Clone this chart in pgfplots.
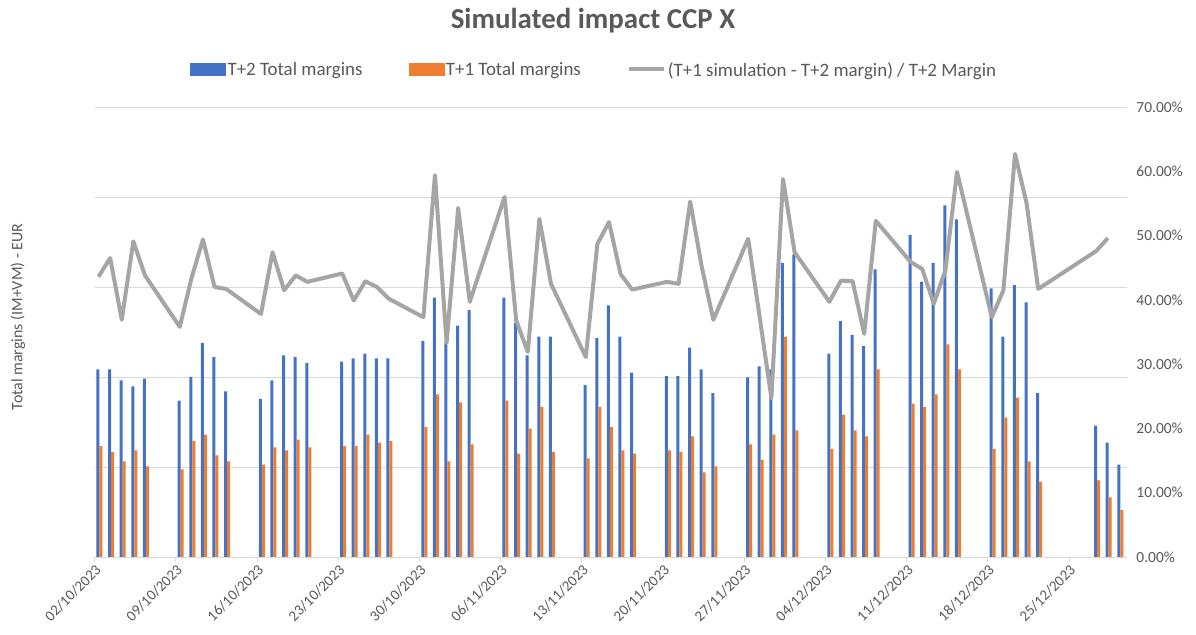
\documentclass[border=0pt]{standalone}
\usepackage{pgfplots}
\pgfplotsset{compat=1.18}
\usepackage{pgfplotstable}
\usepackage{fontspec}
\setmainfont{Carlito}

\definecolor{t2blue}{HTML}{4472C4}
\definecolor{t1orange}{HTML}{ED7D31}
\definecolor{linegray}{HTML}{A5A5A5}
\definecolor{gridgray}{HTML}{D9D9D9}
\definecolor{txtgray}{HTML}{595959}

% day = days since 02/10/2023; t2, t1 in gridline units (left axis values hidden); pct in %
\pgfplotstableread{
day date  t2    t1    pct
0   02/10 2.085 1.233 43.6
1   03/10 2.085 1.167 46.5
2   04/10 1.963 1.063 36.9
3   05/10 1.896 1.185 49.1
4   06/10 1.981 1.007 43.8
7   09/10 1.737 0.974 35.8
8   10/10 2.000 1.289 43.3
9   11/10 2.378 1.359 49.4
10  12/10 2.222 1.130 42.0
11  13/10 1.841 1.063 41.7
14  16/10 1.756 1.026 37.8
15  17/10 1.963 1.219 47.4
16  18/10 2.241 1.185 41.5
17  19/10 2.222 1.304 43.8
18  20/10 2.156 1.219 42.8
21  23/10 2.170 1.233 44.1
22  24/10 2.207 1.233 39.9
23  25/10 2.259 1.359 42.9
24  26/10 2.207 1.270 42.0
25  27/10 2.207 1.289 40.2
28  30/10 2.400 1.444 37.3
29  31/10 2.881 1.807 59.4
30  01/11 2.380 1.063 33.3
31  02/11 2.570 1.719 54.3
32  03/11 2.744 1.252 39.7
35  06/11 2.881 1.737 56.0
36  07/11 2.604 1.148 36.8
37  08/11 2.241 1.426 31.9
38  09/11 2.448 1.667 52.6
39  10/11 2.448 1.167 42.5
42  13/11 1.911 1.096 31.1
43  14/11 2.433 1.667 48.7
44  15/11 2.796 1.444 52.1
45  16/11 2.448 1.185 44.0
46  17/11 2.048 1.148 41.6
49  20/11 2.011 1.185 42.8
50  21/11 2.011 1.167 42.5
51  22/11 2.326 1.341 55.3
52  23/11 2.085 0.941 45.1
53  24/11 1.822 1.007 36.9
56  27/11 1.996 1.252 49.5
57  28/11 2.119 1.081 37.2
58  29/11 2.085 1.359 24.7
59  30/11 3.267 2.448 58.8
60  01/12 3.363 1.407 47.4
63  04/12 2.259 1.200 39.7
64  05/12 2.622 1.581 43.0
65  06/12 2.467 1.407 42.9
66  07/12 2.344 1.341 34.7
67  08/12 3.196 2.085 52.3
70  11/12 3.578 1.704 45.9
71  12/12 3.059 1.667 44.8
72  13/12 3.267 1.807 39.4
73  14/12 3.907 2.363 44.6
74  15/12 3.752 2.085 59.9
77  18/12 2.985 1.200 37.3
78  19/12 2.448 1.548 41.5
79  20/12 3.022 1.770 62.7
80  21/12 2.830 1.063 55.0
81  22/12 1.822 0.837 41.7
86  27/12 1.459 0.852 47.6
87  28/12 1.270 0.663 49.6
88  29/12 1.026 0.522 nan
}\margins

\begin{document}
\begin{tikzpicture}
\path[use as bounding box] (0,0) rectangle (1196bp,635bp);

% bars, left axis (values not shown)
\begin{axis}[
  at={(94.5bp,78bp)}, anchor=south west,
  scale only axis, width=1032.5bp, height=450bp,
  xmin=-0.35, xmax=88.65, ymin=0, ymax=5,
  axis x line*=bottom, axis y line*=left,
  x axis line style={draw=gridgray, line width=0.8bp, -},
  y axis line style={draw=none},
  xtick={-0.35,6.65,...,83.65},
  xticklabels={02/10/2023,09/10/2023,16/10/2023,23/10/2023,30/10/2023,06/11/2023,
    13/11/2023,20/11/2023,27/11/2023,04/12/2023,11/12/2023,18/12/2023,25/12/2023},
  xtick style={draw=gridgray, line width=0.8bp},
  tick align=outside, major tick length=5bp,
  ytick={0,1,...,5}, yticklabels={}, ytick style={draw=none},
  ymajorgrids, grid style={draw=gridgray, line width=0.8bp},
  xticklabel style={rotate=45, anchor=north east, inner sep=1bp,
    font=\fontsize{15}{16}\selectfont, text=txtgray},
]
\addplot[ybar, bar width=3bp, bar shift=-0.6bp, fill=t2blue, draw=none]
  table[x=day, y=t2]{\margins};
\addplot[ybar, bar width=3bp, bar shift=2.4bp, fill=t1orange, draw=none]
  table[x=day, y=t1]{\margins};
\end{axis}

% ratio line, right axis
\begin{axis}[
  at={(94.5bp,78bp)}, anchor=south west,
  scale only axis, width=1032.5bp, height=450bp,
  xmin=-0.35, xmax=88.65, ymin=0, ymax=70,
  axis x line=none, axis y line*=right,
  y axis line style={draw=none},
  ytick={0,10,...,70}, ytick style={draw=none},
  /pgf/number format/assume math mode=true,
  yticklabel={\pgfmathprintnumber[fixed,fixed zerofill,precision=2]{\tick}\%},
  yticklabel style={anchor=west, xshift=6bp, font=\fontsize{15.5}{16}\selectfont, text=txtgray},
  legend style={at={(0.484,1.082)}, anchor=center, draw=none, fill=none,
    font=\fontsize{19}{20}\selectfont, text=txtgray,
    /tikz/every even column/.append style={column sep=44bp}},
  legend columns=3, legend cell align=left,
]
\addlegendimage{legend image code/.code={\fill[t2blue] (0bp,-5bp) rectangle (35bp,7bp);}}
\addlegendentry{T+2 Total margins}
\addlegendimage{legend image code/.code={\fill[t1orange] (0bp,-5bp) rectangle (35bp,7bp);}}
\addlegendentry{T+1 Total margins}
\addplot[linegray, line width=4bp, line join=round, no markers, unbounded coords=discard,
  legend image code/.code={\draw[linegray, line width=4bp] (0bp,1bp) -- (35bp,1bp);}]
  table[x=day, y=pct]{\margins};
\addlegendentry{(T+1 simulation - T+2 margin) / T+2 Margin}
\end{axis}

\node[font=\bfseries\fontsize{29}{32}\selectfont, text=txtgray] at (593bp,614bp) {Simulated impact CCP X};
\node[rotate=90, font=\fontsize{16}{17}\selectfont, text=txtgray] at (18bp,318bp) {Total margins (IM+VM) - EUR};
\end{tikzpicture}
\end{document}
